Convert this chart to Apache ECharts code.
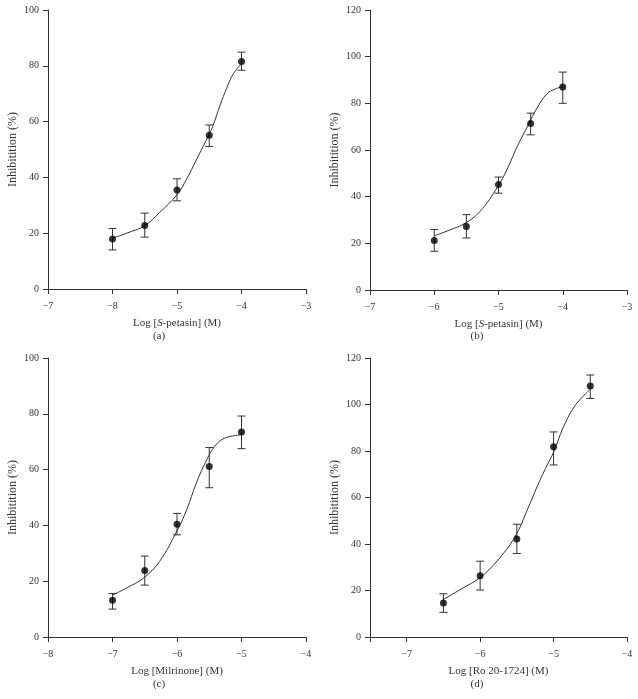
<!DOCTYPE html>
<html>
<head>
<meta charset="utf-8">
<script src="https://cdn.jsdelivr.net/npm/echarts@6/dist/echarts.min.js"></script>
<style>
html,body{margin:0;padding:0;background:#fff;}
#chart{width:638px;height:699px;}
</style>
</head>
<body>
<div id="chart"></div>
<script>
// ---------- data ----------
// Panel (a): S-petasin
const xA = [-6, -5.5, -5, -4.5, -4];
const yA = [17.9, 22.8, 35.5, 55.1, 81.5];
const loA = [14.0, 18.6, 31.6, 51.1, 78.4];
const hiA = [21.7, 27.2, 39.5, 58.8, 84.9];
const curveXA = [-6, -5.78, -5.5, -5.27, -5.0, -4.85, -4.7, -4.5, -4.44, -4.33, -4.23, -4.13, -4.0];
const curveYA = [18.2, 20.0, 22.7, 27.4, 33.8, 39.4, 46.3, 55.5, 58.6, 66.0, 72.0, 77.0, 80.8];

// Panel (b): S-petasin
const xB = [-6, -5.5, -5, -4.5, -4];
const yB = [21.2, 27.2, 45.2, 71.4, 87.0];
const loB = [16.6, 22.3, 41.5, 66.5, 80.0];
const hiB = [25.9, 32.3, 48.4, 75.8, 93.4];
const curveXB = [-6, -5.76, -5.52, -5.29, -5.01, -4.87, -4.72, -4.53, -4.41, -4.25, -4.12, -4.0];
const curveYB = [23.2, 25.7, 28.6, 33.6, 44.3, 51.5, 60.8, 71.2, 77.5, 84.0, 86.1, 87.2];

// Panel (c): Milrinone
const xC = [-7, -6.5, -6, -5.5, -5];
const yC = [13.2, 23.8, 40.4, 61.1, 73.5];
const loC = [10.0, 18.6, 36.6, 53.5, 67.5];
const hiC = [15.6, 29.0, 44.3, 67.9, 79.2];
const curveXC = [-7, -6.78, -6.52, -6.27, -5.99, -5.85, -5.7, -5.54, -5.41, -5.26, -5.0];
const curveYC = [15.0, 17.6, 21.1, 27.1, 38.5, 45.6, 55.2, 63.5, 68.5, 71.3, 72.5];

// Panel (d): Ro 20-1724
const xD = [-6.5, -6, -5.5, -5, -4.5];
const yD = [14.6, 26.3, 42.2, 81.8, 108.0];
const loD = [10.6, 20.2, 35.9, 74.0, 102.6];
const hiD = [18.6, 32.6, 48.5, 88.2, 112.7];
const curveXD = [-6.5, -6.26, -6.0, -5.77, -5.53, -5.36, -5.22, -5.11, -5.0, -4.87, -4.73, -4.6, -4.5];
const curveYD = [16.2, 20.6, 25.6, 32.7, 42.8, 54.5, 65.0, 72.5, 79.5, 90.0, 98.5, 103.5, 106.6];

// tick labels
const xTicksA = [-7, -6, -5, -4, -3];
const xTickTextA = ["\u22127", "\u22128", "\u22125", "\u22124", "\u22123"];
const xTicksB = [-7, -6, -5, -4, -3];
const xTickTextB = ["\u22127", "\u22126", "\u22125", "\u22124", "\u22123"];
const xTicksC = [-8, -7, -6, -5, -4];
const xTickTextC = ["\u22128", "\u22127", "\u22126", "\u22125", "\u22124"];
const xTickMarksD = [-7.5, -7, -6, -5, -4];
const xTicksD = [-7, -6, -5, -4];
const xTickTextD = ["\u22127", "\u22126", "\u22125", "\u22124"];

const xNames = ["Log [{i|S}-petasin] (M)", "Log [{i|S}-petasin] (M)", "Log [Milrinone] (M)", "Log [Ro 20-1724] (M)"];
const yName = "Inhibitition (%)";
const captions = ["(a)", "(b)", "(c)", "(d)"];

// ---------- chart ----------
const FONT = "Liberation Serif";
const TXT = "#333";
const AX = "#333";

const panels = [
  {x: xA, y: yA, lo: loA, hi: hiA, cx: curveXA, cy: curveYA, min: -7, max: -3, ymax: 100, ticks: xTicksA, marks: xTicksA, text: xTickTextA},
  {x: xB, y: yB, lo: loB, hi: hiB, cx: curveXB, cy: curveYB, min: -7, max: -3, ymax: 120, ticks: xTicksB, marks: xTicksB, text: xTickTextB},
  {x: xC, y: yC, lo: loC, hi: hiC, cx: curveXC, cy: curveYC, min: -8, max: -4, ymax: 100, ticks: xTicksC, marks: xTicksC, text: xTickTextC},
  {x: xD, y: yD, lo: loD, hi: hiD, cx: curveXD, cy: curveYD, min: -7.5, max: -4, ymax: 120, ticks: xTicksD, marks: xTickMarksD, text: xTickTextD}
];

const grids = [
  {left: 48, top: 10, width: 258, height: 279},
  {left: 370, top: 10, width: 257, height: 280},
  {left: 48, top: 358, width: 258, height: 279},
  {left: 370, top: 358, width: 257, height: 279}
];

const xAxes = [], yAxes = [], series = [], graphics = [];
panels.forEach((p, i) => {
  xAxes.push({
    type: 'value', gridIndex: i, min: p.min, max: p.max,
    name: xNames[i], nameLocation: 'middle', nameGap: 29,
    nameTextStyle: {fontFamily: FONT, fontSize: 11, color: TXT,
      rich: {i: {fontFamily: FONT, fontSize: 11, color: TXT, fontStyle: 'italic'}}},
    axisLine: {show: true, onZero: false, lineStyle: {color: AX, width: 1}},
    axisTick: {show: true, inside: false, length: 5, customValues: p.marks, lineStyle: {color: AX}},
    axisLabel: {customValues: p.ticks, margin: 12, fontFamily: FONT, fontSize: 10, color: TXT,
      formatter: v => { const k = p.ticks.indexOf(v); return k >= 0 ? p.text[k] : ''; }},
    splitLine: {show: false}
  });
  yAxes.push({
    type: 'value', gridIndex: i, min: 0, max: p.ymax, interval: 20,
    name: yName, nameLocation: 'middle', nameRotate: 90, nameGap: 29,
    nameTextStyle: {fontFamily: FONT, fontSize: 12, color: TXT},
    axisLine: {show: true, onZero: false, lineStyle: {color: AX, width: 1}},
    axisTick: {show: true, inside: false, length: 5, lineStyle: {color: AX}},
    axisLabel: {margin: 9, fontFamily: FONT, fontSize: 10, color: TXT},
    splitLine: {show: false}
  });
  series.push({
    type: 'line', xAxisIndex: i, yAxisIndex: i, smooth: 0.4,
    showSymbol: false, symbol: 'none', silent: true, z: 2,
    lineStyle: {color: '#333', width: 1},
    data: p.cx.map((v, k) => [v, p.cy[k]])
  });
  series.push({
    type: 'custom', xAxisIndex: i, yAxisIndex: i, z: 3, silent: true,
    data: p.x.map((v, k) => [v, p.lo[k], p.hi[k]]),
    renderItem: (params, api) => {
      const a = api.coord([api.value(0), api.value(1)]);
      const b = api.coord([api.value(0), api.value(2)]);
      const hw = 4;
      const st = {stroke: '#333', lineWidth: 1};
      return {type: 'group', children: [
        {type: 'line', shape: {x1: a[0], y1: a[1], x2: b[0], y2: b[1]}, style: st},
        {type: 'line', shape: {x1: a[0] - hw, y1: a[1], x2: a[0] + hw, y2: a[1]}, style: st},
        {type: 'line', shape: {x1: b[0] - hw, y1: b[1], x2: b[0] + hw, y2: b[1]}, style: st}
      ]};
    }
  });
  series.push({
    type: 'scatter', xAxisIndex: i, yAxisIndex: i, z: 4, silent: true,
    symbol: 'circle', symbolSize: 7, itemStyle: {color: '#000'},
    data: p.x.map((v, k) => [v, p.y[k]])
  });
});

const capPos = [[159, 336], [477, 336], [159, 684], [477, 684]];
captions.forEach((c, i) => {
  graphics.push({type: 'text', x: capPos[i][0], y: capPos[i][1],
    style: {text: c, fontFamily: FONT, fontSize: 11, fill: TXT, align: 'center', verticalAlign: 'middle'}});
});

const chart = echarts.init(document.getElementById('chart'), null, {renderer: 'canvas'});
chart.setOption({
  animation: false,
  backgroundColor: '#fff',
  grid: grids,
  xAxis: xAxes,
  yAxis: yAxes,
  series: series,
  graphic: graphics
});
</script>
</body>
</html>
